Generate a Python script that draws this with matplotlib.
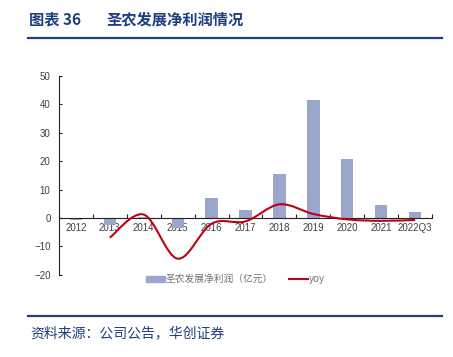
import numpy as np
import matplotlib
matplotlib.use('Agg')
import matplotlib.pyplot as plt
from matplotlib.path import Path
from matplotlib.patches import PathPatch
from matplotlib.lines import Line2D
from matplotlib.patches import Patch

plt.rcParams['font.family'] = ['Liberation Sans', 'Noto Sans CJK SC', 'DejaVu Sans']

# data
years = ['2012', '2013', '2014', '2015', '2016', '2017', '2018', '2019', '2020', '2021', '2022Q3']
profit = [-0.6, -2.6, 0.2, -3.5, 6.9, 2.8, 15.4, 41.3, 20.6, 4.6, 2.0]
yoy_years = ['2013', '2014', '2015', '2016', '2017', '2018', '2019', '2020', '2021', '2022Q3']
yoy = [-6.9, 1.2, -14.3, -2.0, -1.2, 4.8, 1.4, -0.5, -1.0, -0.7]

bar_color = '#9aa6cc'
line_color = '#c00018'
navy = '#1f3f7f'

fig = plt.figure(figsize=(4.53, 3.57), dpi=100)
ax = fig.add_axes([0.130, 0.230, 0.824, 0.558])

x = np.arange(len(years))
ax.bar(x, profit, width=0.36, color=bar_color, zorder=2)

# smoothed line like excel (catmull-rom bezier through the points)
xi = np.array([years.index(y) for y in yoy_years], dtype=float)
pts = np.column_stack([xi, yoy])
verts = [pts[0]]
codes = [Path.MOVETO]
for i in range(len(pts) - 1):
    p0 = pts[i - 1] if i > 0 else pts[i]
    p1 = pts[i]
    p2 = pts[i + 1]
    p3 = pts[i + 2] if i + 2 < len(pts) else pts[i + 1]
    c1 = p1 + (p2 - p0) / 6
    c2 = p2 - (p3 - p1) / 6
    verts += [c1, c2, p2]
    codes += [Path.CURVE4] * 3
ax.add_patch(PathPatch(Path(verts, codes), facecolor='none', edgecolor=line_color, lw=1.5, zorder=3))

ax.set_xlim(-0.5, len(years) - 0.5)
ax.set_ylim(-20, 50)
ax.set_yticks(range(-20, 51, 10))
ax.tick_params(axis='y', direction='in', length=2, labelsize=7, color='#222222', pad=6)
for lab in ax.get_yticklabels():
    lab.set_color('#404040')

# x axis sits at zero, ticks between categories
ax.spines['bottom'].set_position(('data', 0))
ax.spines['top'].set_visible(False)
ax.spines['right'].set_visible(False)
ax.spines['left'].set_color('#222222')
ax.spines['bottom'].set_color('#222222')
ax.spines['left'].set_linewidth(0.8)
ax.spines['bottom'].set_linewidth(0.8)
ax.set_xticks(np.arange(len(years) + 1) - 0.5)
ax.set_xticklabels([])
ax.tick_params(axis='x', direction='in', length=3, color='#222222')
for i, y in enumerate(years):
    ax.text(i, -1.8, y, ha='center', va='top', fontsize=7, color='#404040', zorder=1)

handles = [Patch(color=bar_color), Line2D([0], [0], color=line_color, lw=1.5)]
fig.legend(handles, ['圣农发展净利润（亿元）', 'yoy'], loc='center', bbox_to_anchor=(0.52, 0.218),
           ncol=2, frameon=False, handlelength=2.0, handleheight=0.6,
           columnspacing=1.6, handletextpad=0.1, labelcolor='#707070',
           prop={'family': ['Noto Sans CJK SC', 'Liberation Sans'], 'size': 7})

# header and footer
fig.text(0.064, 0.945, '图表 36', fontsize=11, fontweight='bold', color=navy,
         family=['Noto Sans CJK SC'], va='center')
fig.text(0.236, 0.945, '圣农发展净利润情况', fontsize=11, fontweight='bold', color=navy,
         family=['Noto Sans CJK SC'], va='center')
fig.add_artist(Line2D([0.062, 0.975], [0.893, 0.893], color=navy, lw=1.6))
fig.add_artist(Line2D([0.062, 0.975], [0.115, 0.115], color=navy, lw=1.6))
fig.text(0.066, 0.066, '资料来源：公司公告，华创证券', fontsize=10, color=navy, style='italic',
         family=['Noto Sans CJK SC'], va='center')

fig.savefig('out.png', dpi=100)
